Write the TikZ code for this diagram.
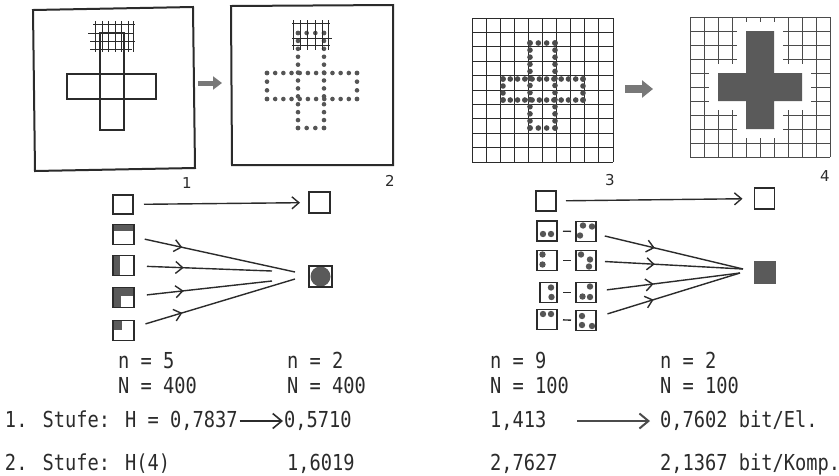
\documentclass[tikz,border=0pt]{standalone}
\usepackage{fontspec}
\newfontfamily\tw{DejaVu Sans Mono}[FakeStretch=0.85]
\newfontfamily\hw{DejaVu Sans}
\usetikzlibrary{arrows.meta,decorations.markings,calc}

\definecolor{ink}{HTML}{2B2B2B}
\definecolor{dotgray}{HTML}{555555}
\definecolor{fillgray}{HTML}{5A5A5A}
\definecolor{arrowgray}{HTML}{787878}

% a row of dots from (x1,y1) to (x2,y2) with n gaps
\newcommand\dotside[5]{%
  \foreach \k in {0,...,#5}{\fill ({#1+(#3-#1)*\k/#5},{#2+(#4-#2)*\k/#5}) circle (\dotr);}}
% dotted rectangle outline: x1 y1 x2 y2 nx ny
\newcommand\dotrect[6]{%
  \dotside{#1}{#2}{#3}{#2}{#5}%
  \dotside{#1}{#4}{#3}{#4}{#5}%
  \dotside{#1}{#2}{#1}{#4}{#6}%
  \dotside{#3}{#2}{#3}{#4}{#6}}
\newcommand\dotr{2.3pt}

\begin{document}
\begin{tikzpicture}[x=1pt,y=-1pt,line join=miter,
  every node/.style={inner sep=0pt,outer sep=0pt},
  >={Straight Barb[length=7pt,width=12pt]},
  frame/.style={draw=ink,line width=2pt},
  crossline/.style={draw=ink,line width=2.4pt},
  gridline/.style={draw=ink,line width=0.9pt},
  txt/.style={font=\tw\fontsize{22}{24}\selectfont,anchor=base west,text=ink,
    text height=16pt,text depth=4pt},
  numlabel/.style={font=\hw\fontsize{15}{17}\selectfont,text=ink},
  cell/.style={draw=ink,line width=1.5pt,minimum width=20pt,minimum height=20pt},
  conn/.style={draw=ink,line width=1.4pt},
  midarrow/.style={postaction={decorate},decoration={markings,
    mark=at position #1 with {\arrow[line width=1.4pt]{>}}}},
  blockarrow/.style={draw=arrowgray,line width=#1},
  patTop/.style={path picture={\fill[fillgray] (path picture bounding box.north west)
    rectangle ($(path picture bounding box.north east)+(0,6)$);}},
  patLeft/.style={path picture={\fill[fillgray] (path picture bounding box.north west)
    rectangle ($(path picture bounding box.south west)+(7,0)$);}},
  patL/.style={path picture={\fill[fillgray] (path picture bounding box.north west)
    rectangle (path picture bounding box.south east);
    \fill[white] ($(path picture bounding box.north west)+(8,8)$)
    rectangle (path picture bounding box.south east);}},
  patCorner/.style={path picture={\fill[fillgray] (path picture bounding box.north west)
    rectangle ($(path picture bounding box.north west)+(9,9)$);}},
  spots/.style={path picture={\foreach \a/\b in {#1}
    \fill[dotgray] ($(path picture bounding box.center)+(\a,\b)$) circle (3.2pt);}}
]
\useasboundingbox (0,0) rectangle (839,475);
\fill[white] (0,0) rectangle (839,475);

% ---------- panel 1: outlined cross ----------
\draw[frame] (33,10) -- (193,7) -- (195,168) -- (35,171) -- cycle;
\draw[crossline] (100,33) rectangle (124,130);
\draw[crossline] (67,74) rectangle (156,99);
\begin{scope}[gridline,line width=0.8pt]
  \foreach \gx in {95,102,108,115,121,128,133} \draw (\gx,21) -- (\gx,52);
  \draw (93,24) -- (135,24);
  \draw (88,33) -- (133,33);
  \draw (90,41) -- (135,41);
  \draw (90,49) -- (132,49);
\end{scope}
\node[numlabel] (lab1) at (187,183) {1};

% ---------- panel 2: sampled cross ----------
\draw[frame] (231,6) -- (393,5) -- (393,165) -- (232,165) -- cycle;
\begin{scope}[fill=dotgray]
  \renewcommand\dotr{2.3pt}
  \dotrect{298}{33}{324}{128}{3}{12}
  \dotrect{267}{73}{357}{99}{11}{3}
\end{scope}
\begin{scope}[gridline,line width=0.7pt]
  \foreach \gx in {293,300,307,315,322,328} \draw (\gx,20) -- (\gx,50);
  \draw (292,23) -- (330,23);
  \draw (292,38) -- (332,38);
  \draw (292,45) -- (330,45);
\end{scope}
\node[numlabel] (lab2) at (390,181) {2};

% arrow panel 1 -> panel 2
\coordinate (a1s) at (198,83);
\coordinate (a1e) at (222,83);
\draw[blockarrow=5pt,-{Triangle[length=9pt,width=13pt]}] (a1s) -- (a1e);

% ---------- panel 3: grid with sampled cross ----------
\begin{scope}[gridline,line width=0.9pt]
  \foreach \i in {0,...,10} {
    \draw ({472+14.1*\i},18) -- ({472+14.1*\i},162);
    \draw (472,{18+14.4*\i}) -- (613,{18+14.4*\i});
  }
\end{scope}
\begin{scope}[fill=ink!85]
  \renewcommand\dotr{2.8pt}
  \dotrect{530}{43}{555}{128}{3}{12}
  \dotrect{503}{79}{583}{100}{11}{3}
\end{scope}
\node[numlabel] (lab3) at (610,180) {3};

% arrow panel 3 -> panel 4
\coordinate (a2s) at (625,89);
\coordinate (a2e) at (653,89);
\draw[blockarrow=8pt,-{Triangle[length=11pt,width=17pt]}] (a2s) -- (a2e);

% ---------- panel 4: grid with filled cross ----------
\begin{scope}[gridline,draw=ink!85,line width=0.8pt]
  \foreach \i in {0,...,10} {
    \draw ({690+14*\i},17) -- ({690+14*\i},157);
    \draw (690,{17+14*\i}) -- (830,{17+14*\i});
  }
\end{scope}
\path[draw=white,line width=18pt]
  (746,31) -- (774,31) -- (774,73) -- (802,73) -- (802,101) -- (774,101) --
  (774,129) -- (746,129) -- (746,101) -- (718,101) -- (718,73) -- (746,73) -- cycle;
\fill[fillgray]
  (746,31) -- (774,31) -- (774,73) -- (802,73) -- (802,101) -- (774,101) --
  (774,129) -- (746,129) -- (746,101) -- (718,101) -- (718,73) -- (746,73) -- cycle;
\node[numlabel] (lab4) at (825,176) {4};

% ---------- left code table ----------
\node[cell,minimum height=19pt] (s1) at (123,204.5) {};
\node[cell,minimum width=21pt,minimum height=21pt] (t1) at (319.5,202.5) {};
\node[cell,minimum width=21pt,patTop]    (s2) at (123.5,234.5) {};
\node[cell,minimum width=21pt,patLeft]   (s3) at (123.5,265.5) {};
\node[cell,minimum width=21pt,patL]      (s4) at (123.5,297.5) {};
\node[cell,minimum width=21pt,patCorner] (s5) at (123.5,330.5) {};
\node[cell,minimum width=23pt,minimum height=21pt,
  path picture={\fill[fillgray] (path picture bounding box.center) circle (10pt);}]
  (t2) at (320.5,276.5) {};
\coordinate (c1) at (295,272);
\coordinate (c2) at (272,271);
\coordinate (c3) at (272,281);
\coordinate (c4) at (295,279);

\draw[conn,->,shorten <=11pt,shorten >=9pt] (s1) -- (t1);
\draw[conn,midarrow=0.3,shorten <=11pt] (s2) -- (c1);
\draw[conn,midarrow=0.36,shorten <=13pt] (s3) -- (c2);
\draw[conn,midarrow=0.36,shorten <=13pt] (s4) -- (c3);
\draw[conn,midarrow=0.3,shorten <=12pt] (s5) -- (c4);

% ---------- right code table ----------
\node[cell] (r0) at (546,201) {};
\node[cell,minimum height=21pt] (rt0) at (764.5,198.5) {};
\draw[conn,->,shorten <=10pt,shorten >=12pt] (r0) -- (rt0);

\node[cell,spots={-4/3,4/3}]              (aL) at (547,231) {};
\node[cell,spots={-3/-6,6/-5,-6/4}]       (aR) at (586,231.5) {};
\node[cell,spots={-4.5/-6,-4.5/4}]        (bL) at (547,260.5) {};
\node[cell,spots={-5/-6,4/-1,3/6}]        (bR) at (586,260.5) {};
\node[cell,minimum width=17pt,spots={2.5/-5,3/4.5}] (cL) at (548.5,292.5) {};
\node[cell,spots={4/-6,-3.5/4,4/4.5}]     (cR) at (586,292.5) {};
\node[cell,spots={-4/-5.5,4/-5.5}]        (dL) at (547,319.5) {};
\node[cell,spots={-4/-4.5,-4/4.5,6/5.5}]  (dR) at (586,320.5) {};

\foreach \p in {a,b,c,d}
  \draw[conn,shorten <=6pt,shorten >=5pt] (\p L) -- (\p R);

\node[cell,draw=fillgray,fill=fillgray,minimum height=21pt] (rt1) at (765,272.5) {};
\coordinate (d1) at (743,269);
\coordinate (d3) at (740,273);
\draw[conn,midarrow=0.4,shorten <=9pt] (aR) -- (d1);
\draw[conn,midarrow=0.4,shorten <=9pt] (bR) -- (d1);
\draw[conn,midarrow=0.4,shorten <=11pt] (cR) -- (d3);
\draw[conn,midarrow=0.4,shorten <=12pt] (dR) -- (d3);

% ---------- figures ----------
\node[txt] (n5)   at (118,368) {n = 5};
\node[txt] (N4a)  at (118,393) {N = 400};
\node[txt] (n2a)  at (287,368) {n = 2};
\node[txt] (N4b)  at (287,393) {N = 400};
\node[txt] (st1)  at (5,427)   {1. Stufe: H = 0,7837};
\node[txt] (v1)   at (284,427) {0,5710};
\node[txt] (st2)  at (5,470)   {2. Stufe: H(4)};
\node[txt] (v2)   at (287,470) {1,6019};
\draw[conn,line width=1.6pt,-{Straight Barb[length=9pt,width=15pt]},
  shorten <=2pt,shorten >=1pt] (st1.east) -- (v1.west);

\node[txt] (n9)   at (490,368) {n = 9};
\node[txt] (N1a)  at (490,393) {N = 100};
\node[txt] (n2b)  at (660,368) {n = 2};
\node[txt] (N1b)  at (660,393) {N = 100};
\node[txt] (h1)   at (490,427) {1,413};
\node[txt] (w1)   at (660,427) {0,7602 bit/El.};
\node[txt] (h2)   at (490,470) {2,7627};
\node[txt] (w2)   at (660,470) {2,1367 bit/Komp.};
\draw[conn,line width=2pt,draw=ink!85,-{Straight Barb[length=9pt,width=15pt]},
  shorten <=31pt,shorten >=10pt] (h1.east) -- (w1.west);
\end{tikzpicture}
\end{document}
